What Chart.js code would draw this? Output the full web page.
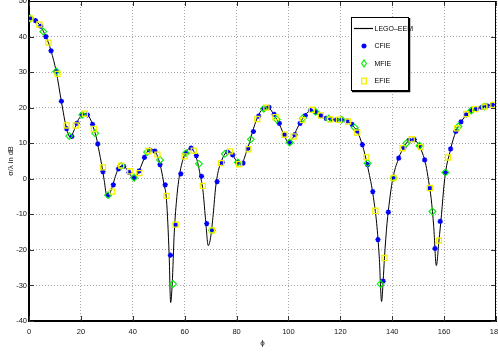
<!DOCTYPE html>
<html>
<head>
<meta charset="utf-8">
<script src="https://cdn.jsdelivr.net/npm/chart.js@4.4.1/dist/chart.umd.min.js"></script>
<style>
body { margin: 0; background: #fff; }
#wrap { width: 498px; height: 354px; }
</style>
</head>
<body>
<div id="wrap"><canvas id="chart" width="498" height="354" style="width:498px;height:354px"></canvas></div>
<script>
// LEGO-EEM reference curve (phi in degrees, sigma/lambda in dB)
var lineX = [0, 2, 4, 6, 7, 8, 10, 11, 12, 13, 14, 15, 16, 17, 18, 19, 20, 21, 22, 23, 24, 25, 26, 27, 28, 29, 30,
    31, 32, 33, 34, 35, 36, 37, 38, 39, 40, 41, 42, 43, 44, 45, 46, 47, 48, 49, 50, 51, 52, 53, 54, 54.6, 55.2, 56, 57, 58, 59, 60,
    61, 62, 63, 64, 65, 66, 67, 68, 69.1, 70, 71, 72, 73, 74, 75, 76, 77, 78, 79, 80, 81, 82, 83, 84, 85, 86, 87, 88, 89, 90,
    91, 92, 93, 94, 95, 96, 97, 98, 99, 100, 101, 102, 103, 104, 105, 106, 107, 108, 109, 110, 111, 112, 113, 114, 116, 118, 120,
    122, 123, 124, 125, 126, 127, 128, 129, 130, 131, 132, 133, 134, 135, 135.9, 136.5, 137, 138, 139, 140, 141, 142, 143, 144, 145,
    146, 147, 148, 149, 150, 151, 152, 153, 154, 155, 156, 157, 158, 159, 160, 161, 162, 163, 164, 165, 166, 167, 168, 169, 170,
    171, 172, 173, 174, 175, 176, 177, 178, 179, 180];
var lineY = [45.2, 44.7, 43.4, 40.8, 39.2, 37.2, 31.8, 28.2, 23.8, 19.6, 15.6, 12.8, 11.6, 13.0, 14.8, 16.6, 17.6, 18.3, 18.3, 17.6, 16.2, 14, 11.5, 7.8, 4, -0.5, -4.8,
    -4.3, -2.5, 0, 2.1, 3.3, 3.7, 3.3, 2.4, 1.2, 0.2, 0.4, 1.4, 3.2, 5, 6.9, 7.9, 8.3, 8.2, 7.2, 5.4, 2.5, -1.4, -6, -21, -34.8, -29.6, -15, -5, 1, 4.5, 6.8,
    8, 8.6, 8.3, 6.9, 4.6, 1, -3, -11, -18.8, -16.5, -10, -2, 2.3, 4.6, 6.4, 7.4, 7.7, 7.3, 6.1, 4.9, 4.1, 3.9, 5.8, 8, 10.2, 12.8, 15.2, 17.1, 18.6, 19.6,
    20.1, 20.2, 19.6, 18.5, 17.3, 16.1, 14.5, 12.8, 11.2, 10.1, 10.7, 11.9, 13.6, 15.1, 16.4, 17.5, 18.4, 19.1, 19.4, 19, 18.5, 17.9, 17.4, 17.1, 16.7, 16.6, 16.6,
    16.4, 16.1, 15.6, 14.8, 13.9, 12.6, 10.6, 8.2, 5.2, 1.8, -1.8, -6.5, -12.5, -22, -34.5, -28.8, -22.3, -12.5, -6, -0.8, 2.5, 4.8, 6.8, 8.2, 9.5,
    10.5, 11, 11.1, 10.7, 9.8, 8.4, 6.5, 3.8, -0.5, -5.5, -13.5, -24.4, -17.5, -10, -1.5, 3.8, 6.8, 9.8, 12.2, 14, 15.4, 16.5, 17.5, 18.3, 18.9,
    19.3, 19.5, 19.8, 20, 20.2, 20.5, 20.6, 20.7, 20.8, 20.8];

// CFIE samples
var cfieX = [0.5, 2.5, 4.5, 6.5, 8.5, 10.5, 12.5, 14.5, 16.5, 18.5, 20.5, 22.5, 24.5, 26.5, 28.5, 30.5, 32.5, 34.5, 36.5, 38.5,
    40.5, 42.5, 44.5, 46.5, 48.5, 50.5, 52.5, 54.5, 56.5, 58.5, 60.5, 62.5, 64.5, 66.5, 68.5, 70.5, 72.5, 74.5, 76.5, 78.5,
    80.5, 82.5, 84.5, 86.5, 88.5, 90.5, 92.5, 94.5, 96.5, 98.5, 100.5, 102.5, 104.5, 106.5, 108.5, 110.5, 112.5, 114.5, 116.5, 118.5,
    120.5, 122.5, 124.5, 126.5, 128.5, 130.5, 132.5, 134.5, 136.5, 138.5, 140.5, 142.5, 144.5, 146.5, 148.5, 150.5, 152.5, 154.5, 156.5, 158.5,
    160.5, 162.5, 164.5, 166.5, 168.5, 170.5, 172.5, 174.5, 176.5, 178.5];
var cfieY = [45.1, 44.5, 42.9, 40, 36, 30.2, 21.8, 14.1, 11.9, 15.6, 18, 18, 15.3, 9.8, 2, -4.6, -1.7, 2.8, 3.5, 1.8,
    0.3, 2.2, 6, 8.1, 7.8, 4, -1.7, -21.5, -13, 1.4, 7.2, 8.6, 6.5, 0.7, -12.6, -14.5, -0.8, 4.6, 7.5, 6.7,
    4.6, 4.4, 8.6, 13.3, 17.6, 19.7, 20.1, 18.1, 15.6, 12.4, 10.2, 12.4, 15.6, 17.8, 19.2, 18.8, 17.8, 17, 16.7, 16.6,
    16.6, 16.3, 15.3, 13.5, 9.6, 4, -3.6, -17.1, -28.8, -9.4, 0.5, 5.8, 8.8, 10.8, 11, 9.3, 5.3, -2.6, -19.6, -12,
    1.7, 8.4, 13.3, 16, 18, 19.2, 19.7, 20.1, 20.5, 20.8];

// MFIE samples
var mfieX = [0.5, 5.5, 10.5, 15.5, 20.5, 25.5, 30.5, 35.5, 40.5, 45.5, 50.5, 55.5, 60.5, 65.5, 70.5, 75.5, 80.5, 85.5,
    90.5, 95.5, 100.5, 105.5, 110.5, 115.5, 120.5, 125.5, 130.5, 135.5, 140.5, 145.5, 150.5, 155.5, 160.5, 165.5, 170.5, 175.5];
var mfieY = [45.1, 41.4, 30.2, 12, 18, 12.8, -4.6, 3.6, 0.3, 7.5, 5.3, -29.6, 7.2, 4.2, -14.5, 7, 4.6, 11.1,
    19.7, 16.7, 10.2, 17, 18.8, 16.9, 16.6, 14.4, 4.4, -29.6, 0.2, 10, 9.3, -9.2, 1.8, 14.7, 19.2, 20.3];

// EFIE samples
var efieX = [0.5, 4, 7.5, 11, 14.5, 18, 21.5, 25, 28.5, 32, 35.5, 39, 42.5, 46, 49.5, 53, 56.5, 60, 63.5, 67, 70.5, 74, 77.5, 81, 84.5, 88,
    91.5, 95, 98.5, 102, 105.5, 109, 112.5, 116, 119.5, 123, 126.5, 130, 133.5, 137, 140.5, 144, 147.5, 151, 154.5, 158, 161.5, 165, 168.5, 172, 175.5, 179];
var efieY = [45.1, 43.4, 38.3, 29.5, 15, 15, 18.3, 14, 3.2, -3.6, 3.7, 2.1, 1.6, 7.8, 6.8, -4.8, -12.9, 6.3, 7.9, -2, -14.5, 4.4, 7.7, 4.1, 8.3, 16.8,
    20, 17.3, 12.4, 11.9, 16.5, 19.4, 17.8, 16.7, 16.6, 16.1, 13, 6.1, -9, -22.3, 0.2, 8.6, 11.1, 8.9, -2.6, -17.4, 6, 14.2, 18.2, 19.6, 20.3, 20.8];

var xTicks = [0, 20, 40, 60, 80, 100, 120, 140, 160, 180];
var yTicks = [-40, -30, -20, -10, 0, 10, 20, 30, 40, 50];

var legendLabels = ['LEGO\u2013EEM', 'CFIE', 'MFIE', 'EFIE'];

function pts(xs, ys) {
    return xs.map(function (x, i) { return { x: x, y: ys[i] }; });
}

var FONT = 'Liberation Sans, Arial, sans-serif';

function drawMarker(ctx, style, x, y) {
    ctx.save();
    if (style === 'star') {
        ctx.strokeStyle = '#0000ff'; ctx.lineWidth = 1.4;
        ctx.beginPath();
        ctx.moveTo(x - 2.6, y); ctx.lineTo(x + 2.6, y);
        ctx.moveTo(x, y - 2.6); ctx.lineTo(x, y + 2.6);
        ctx.moveTo(x - 1.8, y - 1.8); ctx.lineTo(x + 1.8, y + 1.8);
        ctx.moveTo(x - 1.8, y + 1.8); ctx.lineTo(x + 1.8, y - 1.8);
        ctx.stroke();
    } else if (style === 'diamond') {
        ctx.strokeStyle = '#00ee00'; ctx.lineWidth = 1.1;
        ctx.beginPath();
        ctx.moveTo(x, y - 3.6); ctx.lineTo(x + 2.4, y); ctx.lineTo(x, y + 3.6); ctx.lineTo(x - 2.4, y); ctx.closePath();
        ctx.stroke();
    } else {
        ctx.strokeStyle = '#f2f200'; ctx.lineWidth = 1.3;
        ctx.strokeRect(x - 2.3, y - 2.8, 4.6, 5.6);
    }
    ctx.restore();
}

var matlabFrame = {
    id: 'matlabFrame',
    afterDraw: function (chart) {
        var ctx = chart.ctx, a = chart.chartArea;
        var xs = chart.scales.x, ys = chart.scales.y;
        ctx.save();
        // inward tick marks
        ctx.strokeStyle = '#333';
        ctx.lineWidth = 1;
        ctx.beginPath();
        xTicks.forEach(function (v) {
            var px = Math.round(xs.getPixelForValue(v)) + 0.5;
            ctx.moveTo(px, a.bottom); ctx.lineTo(px, a.bottom - 5);
            ctx.moveTo(px, a.top); ctx.lineTo(px, a.top + 5);
        });
        yTicks.forEach(function (v) {
            var py = Math.round(ys.getPixelForValue(v)) + 0.5;
            ctx.moveTo(a.left, py); ctx.lineTo(a.left + 5, py);
            ctx.moveTo(a.right, py); ctx.lineTo(a.right - 5, py);
        });
        ctx.stroke();
        // top and right box edges
        ctx.strokeStyle = '#000';
        ctx.lineWidth = 1;
        ctx.beginPath();
        ctx.moveTo(a.left, a.top + 0.5); ctx.lineTo(a.right, a.top + 0.5);
        ctx.moveTo(a.right - 0.5, a.top); ctx.lineTo(a.right - 0.5, a.bottom);
        ctx.stroke();

        // legend box
        var bx = 351, by = 17, bw = 58, bh = 74;
        ctx.fillStyle = '#fff';
        ctx.fillRect(bx, by, bw, bh);
        ctx.strokeStyle = '#000';
        ctx.lineWidth = 1;
        ctx.strokeRect(bx + 0.5, by + 0.5, bw - 1, bh - 1);
        ctx.lineWidth = 1.5;
        ctx.beginPath();
        ctx.moveTo(bx + bw + 0.5, by + 1); ctx.lineTo(bx + bw + 0.5, by + bh + 0.5); ctx.lineTo(bx + 1, by + bh + 0.5);
        ctx.stroke();

        var rows = [28.5, 46, 63.5, 81];
        ctx.strokeStyle = '#000';
        ctx.lineWidth = 1.2;
        ctx.beginPath();
        ctx.moveTo(354, rows[0]); ctx.lineTo(373, rows[0]);
        ctx.stroke();
        drawMarker(ctx, 'star', 364, rows[1]);
        drawMarker(ctx, 'diamond', 364, rows[2]);
        drawMarker(ctx, 'rect', 364, rows[3]);
        ctx.fillStyle = '#000';
        ctx.font = '7px ' + FONT;
        ctx.textBaseline = 'middle';
        ctx.textAlign = 'left';
        legendLabels.forEach(function (t, i) {
            ctx.fillText(t, 374.5, rows[i] + 0.5);
        });
        ctx.restore();
    }
};

new Chart(document.getElementById('chart'), {
    type: 'line',
    data: {
        datasets: [
            {
                label: 'EFIE', data: pts(efieX, efieY), showLine: false, order: 0,
                pointStyle: 'rect', pointRadius: 3.6, borderColor: '#f2f200', backgroundColor: 'rgba(0,0,0,0)',
                pointBorderWidth: 1.3
            },
            {
                label: 'MFIE', data: pts(mfieX, mfieY), showLine: false, order: 1,
                pointStyle: 'rectRot', pointRadius: 3.4, borderColor: '#00ee00', backgroundColor: 'rgba(0,0,0,0)',
                pointBorderWidth: 1.1
            },
            {
                label: 'CFIE', data: pts(cfieX, cfieY), showLine: false, order: 2,
                pointStyle: 'star', pointRadius: 2.6, borderColor: '#0000ff', backgroundColor: '#0000ff',
                pointBorderWidth: 1.4
            },
            {
                label: 'LEGO-EEM', data: pts(lineX, lineY), order: 3,
                borderColor: '#000', borderWidth: 1, pointRadius: 0,
                cubicInterpolationMode: 'monotone', fill: false
            }
        ]
    },
    options: {
        responsive: false,
        animation: false,
        devicePixelRatio: 1,
        layout: { autoPadding: false, padding: { top: 1, right: 2, left: 0, bottom: 0 } },
        plugins: { legend: { display: false }, tooltip: { enabled: false } },
        scales: {
            x: {
                type: 'linear', min: 0, max: 180,
                afterBuildTicks: function (s) { s.ticks = xTicks.map(function (v) { return { value: v }; }); },
                afterFit: function (s) { s.height = 33; s.paddingLeft = 0; s.paddingRight = 0; },
                ticks: { color: '#111', padding: 6, maxRotation: 0, autoSkip: false, font: { family: FONT, size: 7.5 } },
                grid: { color: '#a8a8a8', lineWidth: 1, drawTicks: false },
                border: { color: '#000', width: 2, dash: [1, 2] },
                title: { display: true, text: '\u03d5', color: '#111', font: { family: FONT, size: 8 }, padding: { top: 0, bottom: 6 } }
            },
            y: {
                type: 'linear', min: -40, max: 50,
                afterBuildTicks: function (s) { s.ticks = yTicks.map(function (v) { return { value: v }; }); },
                afterFit: function (s) { s.width = 29; s.paddingTop = 0; s.paddingBottom = 0; },
                ticks: { color: '#111', padding: 2, autoSkip: false, font: { family: FONT, size: 7.5 } },
                grid: { color: '#a8a8a8', lineWidth: 1, drawTicks: false },
                border: { color: '#000', width: 2, dash: [1, 2] },
                title: { display: true, text: '\u03c3/\u03bb in dB', color: '#111', font: { family: FONT, size: 7.5 }, padding: { top: 6, bottom: 0 } }
            }
        }
    },
    plugins: [matlabFrame]
});
</script>
</body>
</html>
